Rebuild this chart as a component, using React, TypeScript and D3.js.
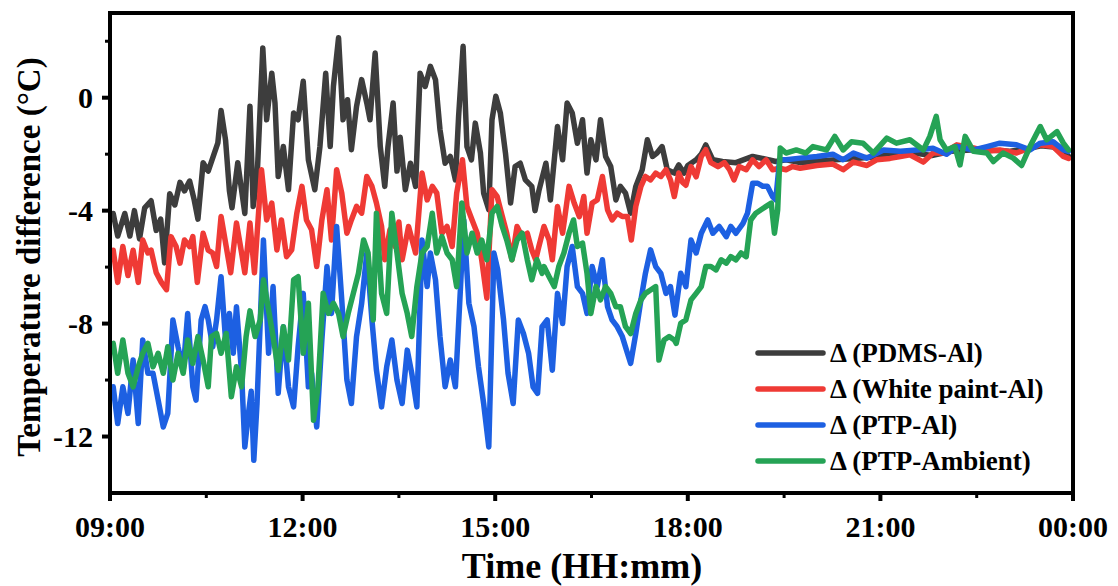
import React from "react";
import * as d3 from "d3";

type P = [number, number];

const pdmsAl: P[] = [[9.05,-4.1],[9.12,-4.9],[9.23,-4.1],[9.31,-4.9],[9.38,-4.0],[9.46,-5.0],[9.54,-3.9],[9.64,-3.65],[9.72,-4.7],[9.79,-4.3],[9.85,-5.85],[9.93,-3.4],[10.01,-3.8],[10.09,-3.0],[10.16,-3.3],[10.24,-2.95],[10.31,-3.6],[10.37,-4.3],[10.45,-2.3],[10.53,-2.6],[10.62,-2.0],[10.68,-1.6],[10.73,-0.45],[10.80,-1.5],[10.86,-3.3],[10.90,-3.9],[10.99,-2.3],[11.10,-4.1],[11.18,-0.3],[11.23,-3.85],[11.29,-2.9],[11.38,1.76],[11.44,-0.78],[11.52,0.87],[11.57,-0.19],[11.62,-2.79],[11.70,-1.73],[11.78,-3.26],[11.86,-0.54],[11.93,-0.78],[12.01,0.58],[12.09,-2.2],[12.19,-3.26],[12.27,-1.73],[12.36,0.87],[12.43,-1.73],[12.48,0.4],[12.56,2.12],[12.63,-0.78],[12.70,-0.07],[12.76,-1.84],[12.84,-0.31],[12.92,0.64],[13.00,-0.19],[13.05,-0.78],[13.13,1.58],[13.21,-1.73],[13.28,-3.14],[13.33,-1.73],[13.41,-0.19],[13.47,-2.6],[13.52,-1.4],[13.60,-3.26],[13.68,-2.32],[13.76,-3.14],[13.83,0.87],[13.91,0.4],[13.99,1.11],[14.07,0.64],[14.14,-1.13],[14.22,-2.32],[14.30,-2.08],[14.38,-2.91],[14.43,-0.66],[14.50,1.82],[14.56,-1.73],[14.63,-2.2],[14.69,-0.9],[14.77,-1.96],[14.82,-3.38],[14.90,-3.97],[14.95,-0.78],[15.01,0.05],[15.08,-0.54],[15.16,-1.96],[15.24,-3.73],[15.31,-2.44],[15.39,-2.32],[15.47,-2.91],[15.57,-3.14],[15.62,-4.0],[15.68,-3.3],[15.79,-2.32],[15.86,-3.62],[15.97,-1.02],[16.05,-2.2],[16.12,-0.19],[16.20,-0.54],[16.28,-1.61],[16.36,-0.78],[16.43,-2.67],[16.49,-1.49],[16.57,-2.2],[16.64,-0.78],[16.72,-2.08],[16.80,-2.44],[16.88,-3.62],[16.95,-3.14],[17.03,-3.38],[17.11,-4.09],[17.19,-3.14],[17.29,-2.55],[17.37,-1.49],[17.45,-2.08],[17.52,-1.96],[17.60,-1.73],[17.68,-2.55],[17.79,-2.67],[17.86,-2.38],[17.94,-2.67],[18.0,-2.4],[18.13,-2.2],[18.21,-2.0],[18.28,-1.67],[18.39,-2.2],[18.54,-2.26],[18.75,-2.3],[19.01,-2.08],[19.27,-2.2],[19.37,-2.26],[19.53,-2.2],[19.75,-2.3],[20.0,-2.25],[20.3,-2.2],[20.6,-2.15],[20.9,-2.1],[21.2,-2.0],[21.5,-1.95],[21.8,-2.05],[22.1,-1.9],[22.4,-1.85],[22.7,-1.85],[23.0,-1.9],[23.3,-1.8],[23.5,-1.7],[23.7,-1.75],[23.85,-2.0],[23.95,-2.1]];

const whitePaintAl: P[] = [[9.05,-5.4],[9.12,-6.54],[9.20,-5.27],[9.28,-6.3],[9.36,-5.4],[9.44,-6.54],[9.51,-5.04],[9.59,-5.5],[9.64,-5.4],[9.72,-6.2],[9.80,-6.54],[9.88,-6.8],[9.95,-4.92],[10.03,-5.27],[10.09,-5.86],[10.16,-5.04],[10.24,-5.27],[10.29,-4.92],[10.36,-6.54],[10.45,-4.8],[10.53,-5.4],[10.60,-5.5],[10.66,-5.98],[10.73,-4.21],[10.81,-5.27],[10.88,-6.2],[10.97,-4.44],[11.05,-5.5],[11.10,-6.2],[11.18,-4.44],[11.25,-6.2],[11.36,-2.55],[11.44,-4.33],[11.52,-3.73],[11.60,-5.39],[11.67,-4.33],[11.75,-5.63],[11.83,-5.39],[11.91,-4.09],[11.99,-3.14],[12.06,-4.33],[12.14,-4.68],[12.22,-5.98],[12.30,-4.33],[12.38,-3.26],[12.45,-5.04],[12.53,-2.55],[12.61,-3.38],[12.69,-4.8],[12.76,-4.33],[12.84,-3.85],[12.92,-4.09],[13.00,-2.79],[13.08,-3.14],[13.15,-3.73],[13.23,-4.56],[13.28,-5.74],[13.36,-4.68],[13.44,-5.27],[13.50,-4.4],[13.55,-5.74],[13.65,-4.56],[13.76,-5.5],[13.86,-2.67],[13.94,-3.62],[14.02,-3.14],[14.09,-3.38],[14.17,-4.8],[14.25,-4.56],[14.33,-5.27],[14.40,-3.38],[14.49,-2.2],[14.56,-3.85],[14.64,-4.33],[14.72,-4.8],[14.79,-5.74],[14.87,-7.1],[14.95,-3.26],[15.03,-3.5],[15.11,-4.2],[15.18,-4.8],[15.26,-5.74],[15.34,-4.56],[15.42,-4.92],[15.50,-4.8],[15.57,-5.39],[15.63,-5.74],[15.68,-5.27],[15.76,-4.56],[15.84,-5.04],[15.89,-5.74],[15.97,-3.85],[16.05,-4.8],[16.15,-3.14],[16.23,-3.73],[16.31,-4.21],[16.38,-3.5],[16.43,-4.8],[16.51,-3.73],[16.59,-3.62],[16.67,-2.79],[16.75,-3.97],[16.82,-4.33],[16.90,-4.09],[16.98,-4.21],[17.06,-4.21],[17.12,-5.04],[17.19,-3.85],[17.27,-3.14],[17.34,-2.79],[17.42,-2.91],[17.50,-2.67],[17.58,-2.79],[17.66,-2.55],[17.73,-2.91],[17.79,-3.5],[17.86,-2.67],[17.92,-3.0],[17.97,-3.1],[18.05,-2.44],[18.13,-2.8],[18.21,-2.08],[18.28,-1.84],[18.36,-2.3],[18.47,-2.44],[18.57,-2.3],[18.65,-2.55],[18.72,-2.91],[18.80,-2.44],[18.91,-2.55],[19.01,-2.2],[19.11,-2.44],[19.22,-2.2],[19.32,-2.55],[19.43,-2.5],[19.53,-2.55],[19.63,-2.44],[19.75,-2.5],[20.01,-2.4],[20.26,-2.35],[20.42,-2.55],[20.58,-2.28],[20.79,-2.4],[20.94,-2.2],[21.15,-2.15],[21.31,-2.08],[21.46,-2.02],[21.67,-2.28],[21.82,-1.96],[21.98,-1.96],[22.19,-1.67],[22.45,-1.78],[22.66,-1.9],[22.86,-1.85],[23.12,-1.96],[23.33,-1.78],[23.49,-1.67],[23.69,-1.73],[23.85,-2.08],[23.93,-2.15]];

const ptpAl: P[] = [[9.05,-10.24],[9.12,-11.54],[9.20,-10.24],[9.28,-11.18],[9.36,-9.29],[9.44,-11.54],[9.51,-8.58],[9.59,-9.76],[9.67,-9.76],[9.75,-10.71],[9.83,-11.66],[9.90,-11.18],[9.98,-7.87],[10.06,-8.82],[10.14,-9.65],[10.21,-7.64],[10.29,-10.24],[10.34,-10.71],[10.42,-7.87],[10.48,-7.4],[10.53,-7.87],[10.60,-8.82],[10.66,-7.87],[10.73,-6.34],[10.80,-8.58],[10.86,-7.64],[10.92,-9.05],[10.97,-7.4],[11.05,-9.76],[11.10,-12.37],[11.15,-11.3],[11.20,-10.4],[11.24,-12.84],[11.29,-10.83],[11.39,-5.04],[11.47,-9.05],[11.54,-6.69],[11.62,-10.47],[11.70,-8.11],[11.78,-10.24],[11.86,-10.95],[11.93,-8.82],[12.01,-6.93],[12.09,-10.24],[12.14,-9.76],[12.22,-11.66],[12.30,-8.58],[12.38,-5.98],[12.45,-7.64],[12.53,-4.56],[12.61,-7.16],[12.69,-10.0],[12.76,-10.83],[12.84,-8.46],[12.92,-7.28],[13.00,-5.5],[13.08,-7.87],[13.15,-9.65],[13.23,-10.95],[13.31,-9.53],[13.39,-8.58],[13.47,-10.0],[13.55,-10.83],[13.63,-8.94],[13.70,-9.76],[13.78,-10.95],[13.86,-5.04],[13.94,-6.69],[13.99,-5.5],[14.07,-6.45],[14.14,-8.46],[14.22,-10.24],[14.30,-9.29],[14.38,-10.24],[14.46,-6.69],[14.51,-4.33],[14.59,-7.28],[14.67,-8.11],[14.74,-9.53],[14.82,-10.83],[14.90,-12.37],[14.98,-5.5],[15.04,-6.1],[15.13,-7.87],[15.20,-9.76],[15.28,-10.83],[15.36,-7.87],[15.44,-8.35],[15.52,-9.05],[15.59,-10.24],[15.66,-10.47],[15.73,-8.11],[15.81,-7.87],[15.89,-9.65],[15.97,-6.93],[16.05,-8.0],[16.12,-5.98],[16.20,-5.27],[16.28,-6.69],[16.36,-6.93],[16.43,-7.64],[16.51,-5.98],[16.59,-6.69],[16.67,-5.74],[16.75,-7.4],[16.82,-7.87],[16.90,-8.11],[16.98,-8.46],[17.06,-9.05],[17.11,-9.41],[17.19,-8.35],[17.27,-7.16],[17.34,-6.22],[17.42,-5.39],[17.50,-5.98],[17.58,-6.22],[17.66,-6.93],[17.73,-6.69],[17.80,-7.7],[17.89,-6.22],[17.97,-6.69],[18.05,-5.04],[18.13,-5.5],[18.21,-4.8],[18.31,-4.33],[18.39,-4.8],[18.49,-4.56],[18.60,-4.92],[18.67,-4.56],[18.75,-4.8],[18.86,-4.45],[18.93,-4.09],[19.01,-3.03],[19.09,-3.03],[19.17,-3.14],[19.24,-3.14],[19.32,-3.5],[19.37,-3.62],[19.43,-2.2],[19.53,-2.2],[19.75,-2.14],[20.01,-2.08],[20.26,-2.0],[20.42,-2.2],[20.58,-1.96],[20.79,-2.14],[21.05,-1.85],[21.31,-1.9],[21.57,-1.85],[21.82,-1.79],[22.03,-2.0],[22.19,-1.73],[22.45,-1.85],[22.66,-1.73],[22.86,-1.61],[23.12,-1.67],[23.33,-1.85],[23.49,-1.61],[23.69,-1.56],[23.85,-1.85],[23.93,-1.9]];

const ptpAmbient: P[] = [[9.05,-8.7],[9.12,-9.76],[9.20,-8.58],[9.28,-9.76],[9.36,-10.24],[9.44,-9.53],[9.51,-9.05],[9.59,-8.7],[9.67,-9.53],[9.75,-9.05],[9.83,-9.76],[9.90,-8.82],[9.98,-10.0],[10.06,-9.05],[10.14,-9.76],[10.21,-8.58],[10.29,-9.41],[10.37,-8.46],[10.45,-9.29],[10.53,-10.24],[10.58,-8.46],[10.66,-8.35],[10.73,-9.05],[10.81,-8.35],[10.89,-10.59],[10.97,-9.53],[11.05,-10.24],[11.12,-8.46],[11.18,-7.55],[11.26,-8.46],[11.34,-7.87],[11.39,-6.45],[11.47,-7.52],[11.54,-8.46],[11.62,-9.65],[11.70,-8.11],[11.78,-9.29],[11.86,-6.45],[11.93,-6.34],[12.01,-9.05],[12.09,-7.28],[12.17,-11.42],[12.24,-10.24],[12.32,-6.93],[12.40,-7.64],[12.48,-7.28],[12.56,-7.64],[12.63,-8.46],[12.71,-7.64],[12.79,-6.93],[12.87,-6.22],[12.95,-5.04],[13.02,-5.5],[13.10,-7.87],[13.15,-4.09],[13.23,-6.93],[13.31,-7.64],[13.39,-4.09],[13.47,-5.5],[13.55,-6.93],[13.63,-7.64],[13.70,-8.46],[13.78,-6.69],[13.86,-5.5],[13.94,-5.27],[14.02,-4.09],[14.09,-5.5],[14.17,-4.92],[14.25,-5.5],[14.33,-5.74],[14.40,-6.69],[14.48,-3.73],[14.56,-5.5],[14.64,-4.8],[14.72,-5.5],[14.79,-5.04],[14.87,-5.74],[14.95,-4.09],[15.03,-3.85],[15.11,-4.56],[15.18,-5.04],[15.26,-5.74],[15.34,-5.04],[15.42,-4.8],[15.50,-5.74],[15.57,-6.45],[15.65,-5.74],[15.73,-6.22],[15.76,-5.98],[15.84,-6.34],[15.92,-6.69],[15.99,-5.98],[16.07,-5.5],[16.15,-4.8],[16.22,-4.33],[16.28,-5.27],[16.36,-5.15],[16.43,-6.22],[16.49,-7.64],[16.57,-6.69],[16.64,-7.16],[16.72,-6.69],[16.80,-6.93],[16.88,-7.4],[16.95,-7.4],[17.03,-8.11],[17.11,-8.35],[17.19,-7.64],[17.27,-7.16],[17.34,-6.93],[17.42,-6.81],[17.50,-6.69],[17.55,-9.29],[17.63,-8.58],[17.71,-8.46],[17.79,-8.58],[17.82,-8.7],[17.89,-7.99],[17.97,-7.87],[18.05,-7.16],[18.13,-6.93],[18.21,-6.69],[18.28,-5.98],[18.36,-5.98],[18.44,-6.1],[18.52,-5.74],[18.60,-5.86],[18.67,-5.63],[18.75,-5.74],[18.83,-5.5],[18.91,-5.63],[18.98,-4.33],[19.06,-4.09],[19.14,-3.97],[19.22,-3.85],[19.30,-3.73],[19.35,-4.8],[19.40,-3.97],[19.44,-1.78],[19.53,-1.96],[19.69,-1.85],[19.84,-1.96],[19.95,-1.73],[20.16,-1.85],[20.29,-1.37],[20.42,-1.85],[20.55,-1.56],[20.73,-1.61],[20.89,-1.96],[21.10,-1.43],[21.25,-1.61],[21.46,-1.49],[21.67,-1.85],[21.77,-1.37],[21.87,-0.66],[21.93,-1.49],[22.03,-1.85],[22.16,-1.73],[22.24,-2.38],[22.32,-1.37],[22.45,-1.9],[22.66,-1.96],[22.76,-2.26],[22.91,-1.96],[23.07,-2.14],[23.20,-2.4],[23.33,-1.73],[23.49,-1.02],[23.59,-1.49],[23.75,-1.2],[23.85,-1.61],[23.93,-1.85]];

const seriesNames = ["\u0394 (PDMS-Al)", "\u0394 (White paint-Al)", "\u0394 (PTP-Al)", "\u0394 (PTP-Ambient)"];
const seriesColors = ["#3d3d3d", "#ef3a35", "#1d60e2", "#25a355"];
const seriesData = [pdmsAl, whitePaintAl, ptpAl, ptpAmbient];

const xMajorTicks = [9, 12, 15, 18, 21, 24];
const xTickLabels = ["09:00", "12:00", "15:00", "18:00", "21:00", "00:00"];
const xMinorTicks = [10.5, 13.5, 16.5, 19.5, 22.5];
const yMajorTicks = [0, -4, -8, -12];
const yMinorTicks = [2, -2, -6, -10];

const FONT = "'Liberation Serif', 'Times New Roman', serif";

export default function App() {
  const W = 1118, H = 586;
  const L = 110, R = 1073, T = 13, B = 493;
  const x = d3.scaleLinear().domain([9, 24]).range([L, R]);
  const y = d3.scaleLinear().domain([-14, 3]).range([B, T]);
  const line = d3.line<P>().x(d => x(d[0])).y(d => y(d[1]));

  return (
    <svg width={W} height={H} style={{ position: "absolute", left: 0, top: 0, background: "#fff" }} fontFamily={FONT} fontWeight="bold">
      <defs>
        <clipPath id="plot"><rect x={L} y={T} width={R - L} height={B - T} /></clipPath>
      </defs>
      <rect x={0} y={0} width={W} height={H} fill="#fff" />
      <g clipPath="url(#plot)">
        {seriesData.map((d, i) => (
          <path key={i} d={line(d) || ""} fill="none" stroke={seriesColors[i]} strokeWidth={5.5} strokeLinejoin="round" strokeLinecap="round" />
        ))}
      </g>
      <rect x={L} y={T} width={R - L} height={B - T} fill="none" stroke="#000" strokeWidth={4} />
      {xMajorTicks.map((t, i) => (
        <g key={"xt" + i}>
          <line x1={x(t)} x2={x(t)} y1={B} y2={B + 8} stroke="#000" strokeWidth={4} />
          <text x={x(t)} y={537} textAnchor="middle" fontSize={30}>{xTickLabels[i]}</text>
        </g>
      ))}
      {xMinorTicks.map((t, i) => (
        <line key={"xm" + i} x1={x(t)} x2={x(t)} y1={B} y2={B + 5} stroke="#000" strokeWidth={3} />
      ))}
      {yMajorTicks.map((v, i) => (
        <g key={"yt" + i}>
          <line x1={L - 8} x2={L} y1={y(v)} y2={y(v)} stroke="#000" strokeWidth={4} />
          <text x={93} y={y(v)} dy="0.35em" textAnchor="end" fontSize={30}>{v}</text>
        </g>
      ))}
      {yMinorTicks.map((v, i) => (
        <line key={"ym" + i} x1={L - 5} x2={L} y1={y(v)} y2={y(v)} stroke="#000" strokeWidth={3} />
      ))}
      <text x={582} y={578} textAnchor="middle" fontSize={36}>Time (HH:mm)</text>
      <text transform={`translate(40, 257) rotate(-90)`} textAnchor="middle" fontSize={33}>Temperature difference (°C)</text>
      {seriesNames.map((n, i) => {
        const ly = 353 + i * 36;
        return (
          <g key={"lg" + i}>
            <line x1={758} x2={823} y1={ly} y2={ly} stroke={seriesColors[i]} strokeWidth={5.5} strokeLinecap="round" />
            <text x={830} y={ly} dy="0.35em" fontSize={27}>{n}</text>
          </g>
        );
      })}
    </svg>
  );
}
